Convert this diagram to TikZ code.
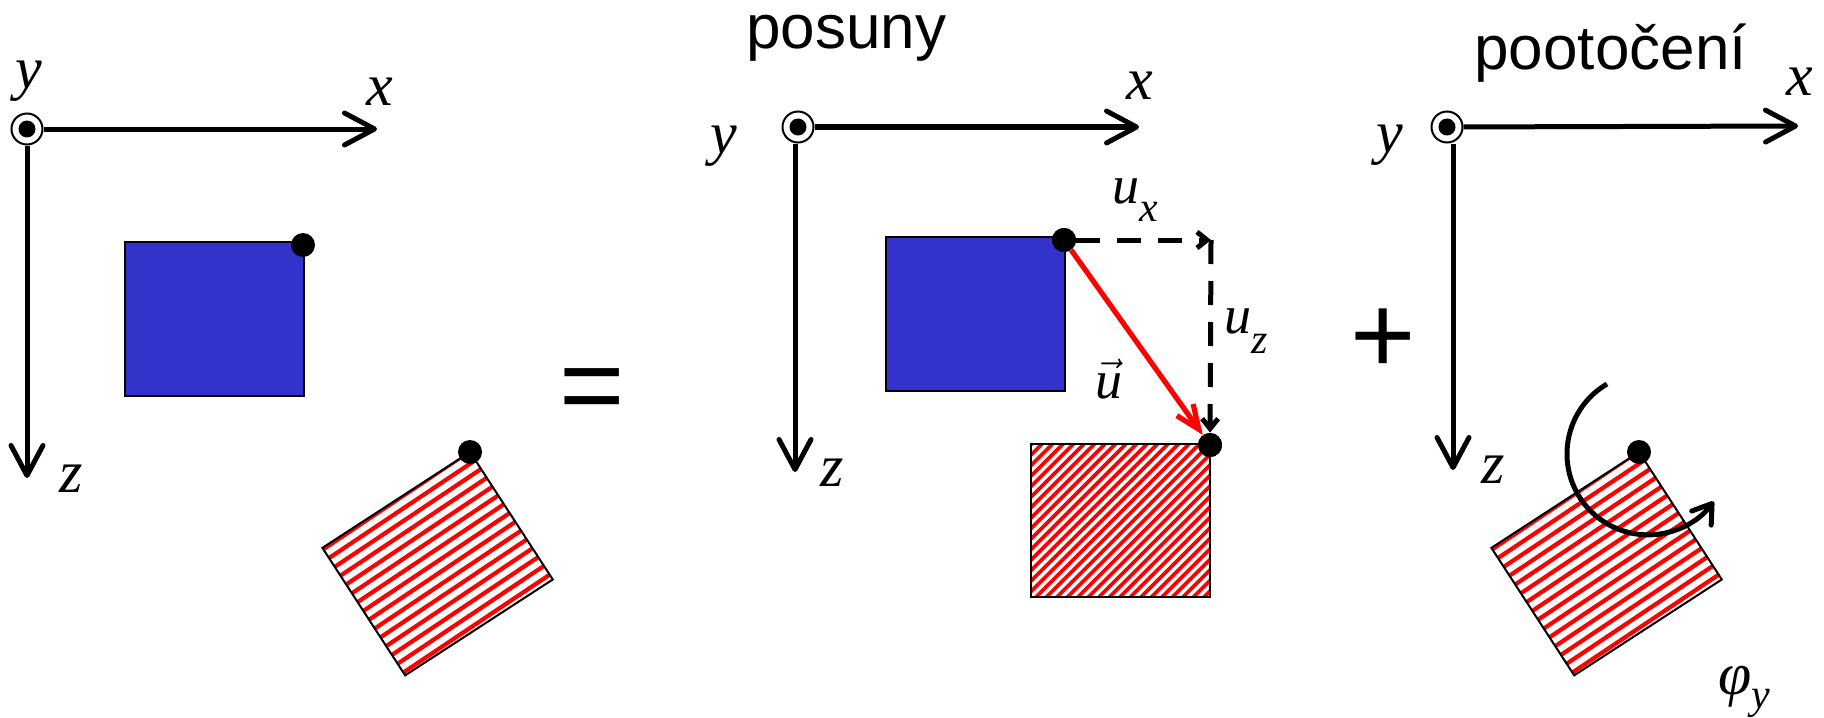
\documentclass[tikz,border=0pt]{standalone}
\usepackage{fontspec}
\setmainfont{Liberation Serif}
\newfontfamily\sansf{Liberation Sans}
\usetikzlibrary{arrows.meta}
\definecolor{boxblue}{RGB}{51,51,204}
\definecolor{hatchred}{RGB}{255,0,0}
\newcommand{\subsz}{\fontsize{21}{21}\selectfont}
\begin{document}
\begin{tikzpicture}[x=0.5pt,y=-0.5pt,
  axis/.style={line width=2.5pt, -{Straight Barb[length=15pt,width=16pt,round]}},
  originmark/.style={circle, draw, line width=1pt, fill=white, minimum size=15.5pt, inner sep=0pt},
  dotmark/.style={circle, fill=black, minimum size=12pt, inner sep=0pt},
  lbl/.style={font=\fontsize{30}{30}\selectfont\itshape, inner sep=0pt},
  qlbl/.style={font=\fontsize{27}{27}\selectfont\itshape, inner sep=0pt, anchor=base west},
  title/.style={font=\sansf\fontsize{31}{31}\selectfont, inner sep=0pt, anchor=base west},
  opsign/.style={font=\sansf\fontsize{56}{56}\selectfont, inner sep=0pt},
  bluebox/.style={fill=boxblue, draw=black, line width=0.75pt},
  hatchborder/.style={draw=black, line width=1pt},
  hatchA/.style={draw=hatchred, line width=1.9pt},
  hatchB/.style={draw=hatchred, line width=2.1pt},
  dashline/.style={line width=2.5pt, dash pattern=on 12pt off 8.5pt, -{Straight Barb[length=5pt,width=8pt]}},
  redarrow/.style={draw=hatchred, line width=2.6pt, -{Straight Barb[length=12pt,width=10pt]}},
  rotarrow/.style={line width=2.5pt, -{Straight Barb[length=9pt,width=12pt,round]}}
]
\useasboundingbox (0,0) rectangle (1824,717);

% ---------------- panel 1 ----------------
\draw[bluebox] (125,242) rectangle (304,396);
\begin{scope}[shift={(470,452)}, rotate=33]
  \begin{scope}
    \clip (-176,0) -- (0,0) -- (0,152) -- (-176,152) -- cycle;
    \foreach \k in {0,...,15} \draw[hatchB] (-200,{\k*10.5+2}) -- (20,{\k*10.5-1});
  \end{scope}
  \draw[hatchborder] (-176,0) -- (0,0) -- (0,152) -- (-176,152) -- cycle;
\end{scope}
\node[originmark] (o1) at (27,129) {};
\fill (o1.center) circle (8.5);
\coordinate (xe1) at (377,129);
\coordinate (ze1) at (27,478);
\draw[axis] (o1) -- (xe1);
\draw[axis] (o1) -- (ze1);
\node[lbl] (ly1) at (29,81) {y};
\node[lbl] (lx1) at (380,92) {x};
\node[lbl] (lz1) at (71,479) {z};
\node[dotmark] (d1) at (303,245) {};
\node[dotmark] (d1b) at (470,452) {};

% equals
\node[opsign] (eq) at (592,396) {=};

% ---------------- panel 2 ----------------
\node[title] (t2) at (746,49) {posuny};
\draw[bluebox] (886,237) rectangle (1065,391);
\begin{scope}
  \clip (1031,444) rectangle (1210,597);
  \foreach \k in {0,...,33} \draw[hatchA] ({1465+\k*10.5-605},605) -- ++(180,-180);
\end{scope}
\draw[hatchborder] (1031,444) rectangle (1210,597);
\node[originmark] (o2) at (798,127) {};
\fill (o2.center) circle (8.5);
\coordinate (xe2) at (1139,127);
\coordinate (ze2) at (795,472);
\draw[axis] (o2) -- (xe2);
\draw[axis] (o2.south -| ze2) -- (ze2);
\node[lbl] (ly2) at (724,146) {y};
\node[lbl] (lx2) at (1140,86) {x};
\node[lbl] (lz2) at (832,473) {z};
\node[dotmark] (d2) at (1064,240) {};
\node[dotmark] (d2b) at (1210,445) {};
\coordinate (corner) at (1211,240);
\draw[dashline] (d2) -- (corner);
\draw[dashline] (corner) -- (d2b);
\draw[redarrow] (d2) -- (d2b);
\node[dotmark] at (d2) {};
\node[dotmark] at (d2b) {};
\node[qlbl] (ux) at (1112,203) {u\raisebox{-9pt}{\subsz x}};
\node[qlbl] (uz) at (1224,333) {u\raisebox{-10pt}{\subsz z}};
\node[qlbl] (uv) at (1095,398) {$\vec{\hbox{\itshape u}}$};

% plus
\node[opsign] (plus) at (1383,341) {+};

% ---------------- panel 3 ----------------
\node[title] (t3) at (1474,70) {pootočení};
\begin{scope}[shift={(1639,452)}, rotate=33]
  \begin{scope}
    \clip (-176,0) -- (0,0) -- (0,152) -- (-176,152) -- cycle;
    \foreach \k in {0,...,15} \draw[hatchB] (-200,{\k*10.5+2}) -- (20,{\k*10.5-1});
  \end{scope}
  \draw[hatchborder] (-176,0) -- (0,0) -- (0,152) -- (-176,152) -- cycle;
\end{scope}
\node[originmark] (o3) at (1447,127) {};
\fill (o3.center) circle (8.5);
\coordinate (xe3) at (1798,126);
\coordinate (ze3) at (1453,470);
\draw[axis] (o3) -- (xe3);
\draw[axis] (o3.south -| ze3) -- (ze3);
\node[lbl] (ly3) at (1390,145) {y};
\node[lbl] (lx3) at (1800,82) {x};
\node[lbl] (lz3) at (1493,470) {z};
\coordinate (arcs) at (1607,384);
\draw[rotarrow] (arcs) arc[start angle=-120.4, end angle=-324, radius=81];
\node[dotmark] (d3) at (1639,452) {};
\node[font=\fontsize{30}{30}\selectfont\itshape, inner sep=0pt, anchor=base west] (phi) at (1718,694) {φ\raisebox{-7pt}{\subsz y}};
\end{tikzpicture}
\end{document}
